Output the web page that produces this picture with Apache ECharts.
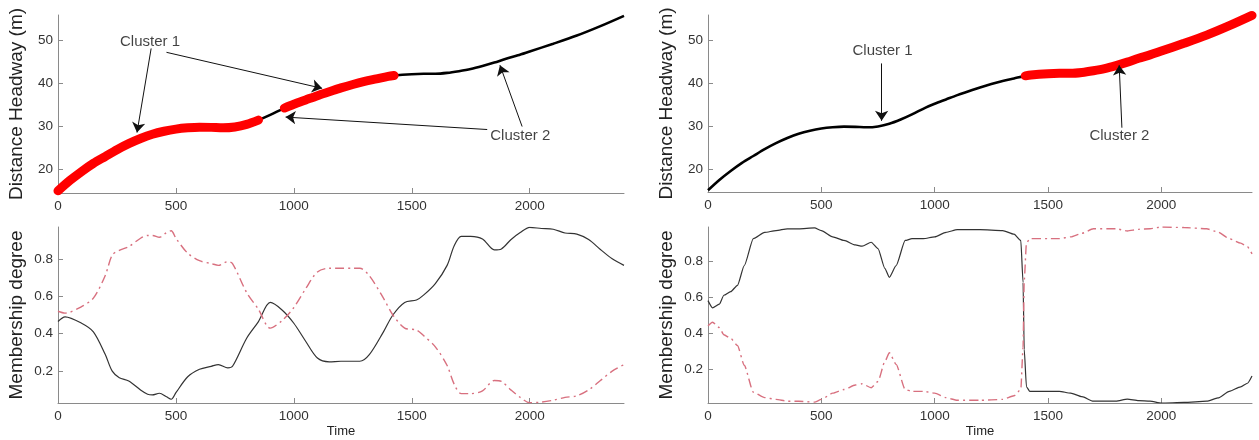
<!DOCTYPE html>
<html>
<head>
<meta charset="utf-8">
<script src="https://cdn.jsdelivr.net/npm/echarts@6/dist/echarts.min.js"></script>
<style>html,body{margin:0;padding:0;background:#fff}#c{width:1259px;height:440px}</style>
</head>
<body>
<div id="c"></div>
<script>
// ---------- DATA ----------
const timeTicks = [0, 500, 1000, 1500, 2000];
const headwayTicks = [20, 30, 40, 50];
const memberTicks = [0.2, 0.4, 0.6, 0.8];

const headwayTime = [0,50,100,150,200,250,300,350,400,450,500,550,600,650,700,750,800,850,900,960,1000,1050,1100,1150,1200,1250,1300,1350,1400,1425,1500,1550,1600,1650,1700,1750,1800,1850,1900,1950,2000,2100,2200,2300,2400];
const headway = [15,17.4,19.5,21.4,23,24.6,26,27.2,28.2,28.9,29.4,29.7,29.85,29.8,29.7,29.9,30.5,31.5,32.7,34.3,35.2,36.2,37.2,38.1,39,39.8,40.5,41.1,41.7,41.9,42.2,42.3,42.3,42.5,42.9,43.4,44.1,44.9,45.8,46.6,47.5,49.3,51.2,53.4,55.8];

// time ranges drawn as the thick red cluster trace
const leftRedRanges = [[0, 850], [960, 1425]];
const rightRedRanges = [[1400, 2400]];

const memLeftTime = [0,30,100,150,200,230,260,300,350,380,400,430,460,480,500,550,600,650,680,720,740,800,850,900,950,1000,1050,1100,1150,1200,1250,1280,1320,1380,1420,1470,1520,1550,1600,1650,1680,1710,1750,1800,1850,1880,1920,1960,2000,2050,2100,2150,2200,2250,2300,2350,2400];
const memLeftSolid = [0.465,0.49,0.456,0.41,0.29,0.2,0.165,0.147,0.10,0.077,0.073,0.082,0.063,0.05,0.085,0.17,0.21,0.226,0.235,0.218,0.226,0.376,0.465,0.567,0.527,0.456,0.36,0.27,0.25,0.253,0.253,0.253,0.288,0.41,0.5,0.567,0.58,0.606,0.668,0.765,0.87,0.92,0.92,0.906,0.848,0.853,0.902,0.94,0.968,0.962,0.958,0.938,0.932,0.903,0.85,0.8,0.765];
const memLeftDashed = [0.52,0.51,0.545,0.59,0.71,0.82,0.845,0.865,0.91,0.925,0.925,0.915,0.94,0.95,0.91,0.83,0.79,0.775,0.765,0.785,0.775,0.62,0.53,0.43,0.47,0.54,0.64,0.73,0.75,0.75,0.75,0.75,0.71,0.59,0.5,0.43,0.42,0.39,0.33,0.23,0.13,0.08,0.08,0.095,0.15,0.145,0.10,0.06,0.032,0.035,0.045,0.06,0.068,0.10,0.15,0.20,0.235];

const memRightTime = [0,20,50,70,100,130,160,200,250,300,350,400,470,500,550,600,650,680,720,750,780,800,830,870,900,950,1000,1050,1100,1200,1300,1350,1380,1390,1395,1405,1420,1500,1550,1600,1650,1700,1800,1850,1900,1950,2000,2100,2200,2250,2300,2350,2380,2400];
const memRightSolid = [0.58,0.54,0.56,0.61,0.63,0.665,0.775,0.925,0.96,0.97,0.98,0.98,0.985,0.97,0.935,0.915,0.89,0.883,0.905,0.87,0.76,0.71,0.775,0.915,0.925,0.925,0.935,0.96,0.975,0.975,0.97,0.95,0.915,0.68,0.31,0.10,0.075,0.075,0.075,0.065,0.045,0.02,0.02,0.032,0.023,0.02,0.01,0.013,0.02,0.038,0.075,0.10,0.12,0.16];
const memRightDashed = [0.44,0.46,0.43,0.39,0.37,0.33,0.22,0.07,0.04,0.03,0.02,0.02,0.015,0.03,0.065,0.085,0.11,0.117,0.095,0.13,0.24,0.29,0.225,0.085,0.075,0.075,0.065,0.04,0.025,0.025,0.03,0.05,0.085,0.32,0.69,0.90,0.925,0.925,0.925,0.935,0.955,0.98,0.98,0.968,0.977,0.98,0.99,0.987,0.98,0.962,0.925,0.90,0.88,0.84];

// annotations (data coordinates)
const leftLabels = [{ name: 'Cluster 1', value: [390, 49.7] }, { name: 'Cluster 2', value: [1960, 27.9] }];
const leftArrows = [
  [[395, 48.2], [335, 28.6]],
  [[460, 47.3], [1120, 38.9]],
  [[1820, 29.3], [965, 32.2]],
  [[1968, 30.0], [1874, 44.3]]
];
const rightLabels = [{ name: 'Cluster 1', value: [770, 47.5] }, { name: 'Cluster 2', value: [1815, 27.8] }];
const rightArrows = [
  [[766, 44.6], [766, 31.2]],
  [[1826, 29.6], [1814, 44.2]]
];

// ---------- BUILD ----------
const pairs = (xs, ys) => xs.map((x, i) => [x, ys[i]]);
const inRanges = (x, rs) => rs.some(r => x >= r[0] && x <= r[1]);
const redData = rs => headwayTime.map((x, i) => [x, inRanges(x, rs) ? headway[i] : null]);

const FONT = 'Liberation Sans, Arial, sans-serif';
const axisCol = '#8a8a8a';
const plain = v => String(v);

function xAxis(gi, showName) {
  return {
    type: 'value', gridIndex: gi, min: 0, max: 2400,
    name: showName ? 'Time' : '', nameLocation: 'middle', nameGap: 22,
    nameTextStyle: { fontFamily: FONT, fontSize: 13, color: '#222' },
    axisLine: { lineStyle: { color: axisCol, width: 1 } },
    axisTick: { inside: true, length: 5, lineStyle: { color: axisCol }, customValues: timeTicks },
    axisLabel: { fontFamily: FONT, fontSize: 13.5, color: '#333', margin: 6, customValues: timeTicks, formatter: plain },
    splitLine: { show: false }
  };
}
function yAxis(gi, name, min, max, ticks) {
  return {
    type: 'value', gridIndex: gi, min: min, max: max,
    name: name, nameLocation: 'middle', nameRotate: 90, nameGap: 32,
    nameTextStyle: { fontFamily: FONT, fontSize: 19, color: '#222' },
    axisLine: { show: true, lineStyle: { color: axisCol, width: 1 } },
    axisTick: { show: true, inside: true, length: 5, lineStyle: { color: axisCol }, customValues: ticks },
    axisLabel: { fontFamily: FONT, fontSize: 13.5, color: '#333', margin: 5, customValues: ticks, formatter: plain },
    splitLine: { show: false }
  };
}
function labelSeries(xi, data) {
  return {
    type: 'scatter', xAxisIndex: xi, yAxisIndex: xi, data: data, symbolSize: 1,
    itemStyle: { color: 'rgba(0,0,0,0)' }, silent: true, z: 10,
    label: { show: true, position: 'inside', formatter: '{b}', fontFamily: FONT, fontSize: 15, color: '#111', textBorderWidth: 0 }
  };
}
function arrowSeries(xi, arrows) {
  return {
    type: 'lines', coordinateSystem: 'cartesian2d', xAxisIndex: xi, yAxisIndex: xi,
    data: arrows.map(a => ({ coords: a })), symbol: ['none', 'arrow'], symbolSize: [0, 10],
    lineStyle: { color: '#111', width: 1, opacity: 1 }, silent: true, z: 9
  };
}

const chart = echarts.init(document.getElementById('c'), null, { renderer: 'canvas' });
chart.setOption({
  animation: false,
  backgroundColor: '#fff',
  grid: [
    { left: 58, top: 15, width: 566, height: 178 },
    { left: 58, top: 227, width: 566, height: 176 },
    { left: 708, top: 15, width: 544, height: 177 },
    { left: 708, top: 227, width: 544, height: 176 }
  ],
  xAxis: [xAxis(0, false), xAxis(1, true), xAxis(2, false), xAxis(3, true)],
  yAxis: [
    yAxis(0, 'Distance Headway (m)', 14.5, 56, headwayTicks),
    yAxis(1, 'Membership degree', 0.03, 0.97, memberTicks),
    yAxis(2, 'Distance Headway (m)', 14.6, 55.9, headwayTicks),
    yAxis(3, 'Membership degree', 0.01, 0.99, memberTicks)
  ],
  series: [
    { type: 'line', xAxisIndex: 0, yAxisIndex: 0, data: pairs(headwayTime, headway), smooth: 0.3, showSymbol: false, lineStyle: { color: '#000', width: 2.6 }, z: 2 },
    { type: 'line', xAxisIndex: 0, yAxisIndex: 0, data: redData(leftRedRanges), smooth: 0.3, showSymbol: false, connectNulls: false, lineStyle: { color: '#f00', width: 9, cap: 'round' }, z: 3 },
    { type: 'line', xAxisIndex: 2, yAxisIndex: 2, data: pairs(headwayTime, headway), smooth: 0.3, showSymbol: false, lineStyle: { color: '#000', width: 2.6 }, z: 2 },
    { type: 'line', xAxisIndex: 2, yAxisIndex: 2, data: redData(rightRedRanges), smooth: 0.3, showSymbol: false, connectNulls: false, lineStyle: { color: '#f00', width: 9, cap: 'round' }, z: 3 },
    { type: 'line', xAxisIndex: 1, yAxisIndex: 1, data: pairs(memLeftTime, memLeftSolid), smooth: 0.3, showSymbol: false, lineStyle: { color: '#333', width: 1.2 } },
    { type: 'line', xAxisIndex: 1, yAxisIndex: 1, data: pairs(memLeftTime, memLeftDashed), smooth: 0.3, showSymbol: false, lineStyle: { color: '#d8707f', width: 1.4, type: [9, 4, 2, 4] } },
    { type: 'line', xAxisIndex: 3, yAxisIndex: 3, data: pairs(memRightTime, memRightSolid), smooth: 0.2, smoothMonotone: 'x', showSymbol: false, lineStyle: { color: '#333', width: 1.2 } },
    { type: 'line', xAxisIndex: 3, yAxisIndex: 3, data: pairs(memRightTime, memRightDashed), smooth: 0.2, smoothMonotone: 'x', showSymbol: false, lineStyle: { color: '#d8707f', width: 1.4, type: [9, 4, 2, 4] } },
    labelSeries(0, leftLabels), arrowSeries(0, leftArrows),
    labelSeries(2, rightLabels), arrowSeries(2, rightArrows)
  ]
});
</script>
</body>
</html>
